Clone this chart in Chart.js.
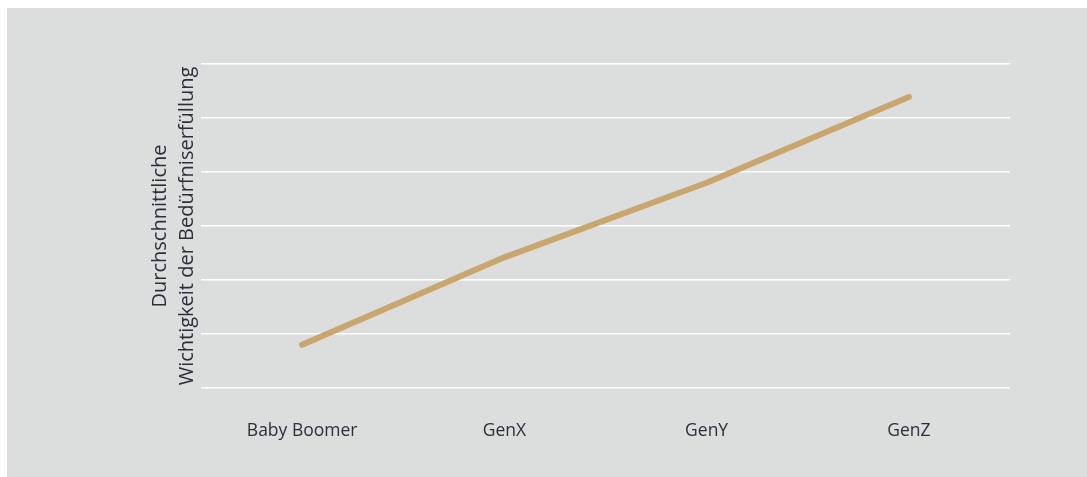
<!DOCTYPE html>
<html>
<head>
<meta charset="utf-8">
<script src="https://cdn.jsdelivr.net/npm/chart.js@4"></script>
<style>
  html, body { margin: 0; padding: 0; background: #ffffff; }
  #wrap { position: absolute; left: 7px; top: 8px; width: 1080px; height: 469px; background: #dcdedd; }
</style>
</head>
<body>
<div id="wrap"><canvas id="myChart"></canvas></div>
<script>
const generations = ['Baby Boomer', 'GenX', 'GenY', 'GenZ']
const importance = [1.8, 3.42, 4.8, 6.39]
const axisTitle = ['Durchschnittliche', 'Wichtigkeit der Bedürfniserfüllung']

const data = {
  labels: generations,
  datasets: [{
    data: importance,
    borderColor: '#c9a66e',
    borderWidth: 6,
    borderCapStyle: 'round',
    borderJoinStyle: 'round',
    pointRadius: 0,
    tension: 0
  }]
}

const config = {
  type: 'line',
  data,
  options: {
    responsive: false,
    animation: false,
    layout: { padding: { left: 140, right: 77, top: 56, bottom: 10 } },
    plugins: { legend: { display: false }, tooltip: { enabled: false } },
    scales: {
      x: {
        offset: true,
        grid: { display: false },
        border: { display: false },
        ticks: { color: '#2b2f3a', padding: 25, font: { family: 'Open Sans', size: 17.5 } }
      },
      y: {
        min: 1,
        max: 7,
        ticks: { display: false, stepSize: 1 },
        grid: { color: '#ffffff', lineWidth: 1.5, drawTicks: false },
        border: { display: false },
        title: {
          display: true,
          text: axisTitle,
          color: '#2b2f3a',
          font: { family: 'Open Sans', size: 20, lineHeight: 1.35 },
          padding: { top: 0, bottom: 0 }
        }
      }
    }
  }
}

const canvas = document.getElementById('myChart')
canvas.width = 1080
canvas.height = 469
const myChart = new Chart(canvas, config)
</script>
</body>
</html>
